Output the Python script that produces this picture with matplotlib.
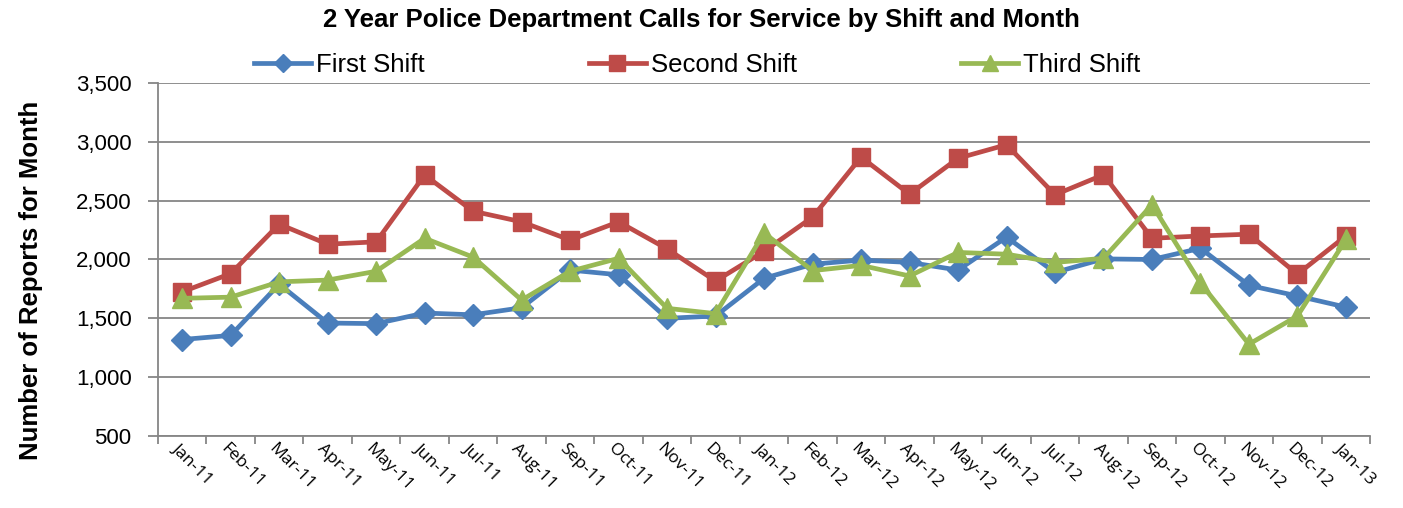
import matplotlib.pyplot as plt
from matplotlib.ticker import FuncFormatter, FixedLocator
import numpy as np

months = ['Jan-11', 'Feb-11', 'Mar-11', 'Apr-11', 'May-11', 'Jun-11', 'Jul-11', 'Aug-11',
          'Sep-11', 'Oct-11', 'Nov-11', 'Dec-11', 'Jan-12', 'Feb-12', 'Mar-12', 'Apr-12',
          'May-12', 'Jun-12', 'Jul-12', 'Aug-12', 'Sep-12', 'Oct-12', 'Nov-12', 'Dec-12', 'Jan-13']
first_shift = [1320, 1355, 1790, 1460, 1455, 1545, 1530, 1590, 1910, 1870, 1500, 1520, 1840,
               1960, 1995, 1975, 1910, 2190, 1890, 2005, 2000, 2095, 1780, 1690, 1595]
second_shift = [1725, 1880, 2300, 2130, 2150, 2718, 2410, 2320, 2165, 2320, 2090, 1817, 2070,
                2360, 2870, 2555, 2860, 2975, 2550, 2720, 2180, 2200, 2215, 1875, 2200]
third_shift = [1670, 1680, 1810, 1825, 1900, 2180, 2020, 1655, 1900, 2010, 1585, 1540, 2225,
               1905, 1950, 1860, 2060, 2045, 1975, 2010, 2465, 1800, 1280, 1520, 2170]

plt.rcParams['font.family'] = ['Liberation Sans', 'DejaVu Sans']

fig = plt.figure(figsize=(14.03, 5.08), dpi=100)
ax = fig.add_axes([0.1126, 0.1417, 0.864, 0.695])

x = np.arange(len(months))
ax.plot(x, first_shift, color='#4A7EBB', lw=3.4, marker='D', ms=11, label='First Shift')
ax.plot(x, second_shift, color='#BE4B48', lw=3.4, marker='s', ms=13, label='Second Shift')
ax.plot(x, third_shift, color='#98B954', lw=3.4, marker='^', ms=14, label='Third Shift')

ax.set_xlim(-0.5, len(months) - 0.5)
ax.set_ylim(500, 3500)
ax.set_yticks(np.arange(500, 3501, 500))
ax.yaxis.set_major_formatter(FuncFormatter(lambda v, p: '{:,.0f}'.format(v)))
ax.grid(axis='y', color='#868686', lw=1.3)
ax.set_axisbelow(True)

# category boundaries get the tick marks, labels sit under the points
ax.xaxis.set_major_locator(FixedLocator(np.arange(-0.5, len(months), 1.0)))
ax.set_xticklabels([])
ax.tick_params(axis='x', which='major', length=6, color='#868686', width=1.3)
ax.tick_params(axis='y', length=7, color='#868686', width=1.3, labelsize=16, pad=12)
for xi, m in zip(x, months):
    ax.text(xi - 0.05, 460, m, rotation=-45, ha='left', va='top', rotation_mode='anchor',
            fontsize=12.5, family=['Open Sans', 'DejaVu Sans'])

for s in ['top', 'right']:
    ax.spines[s].set_visible(False)
for s in ['left', 'bottom']:
    ax.spines[s].set_color('#868686')
    ax.spines[s].set_linewidth(1.3)

ax.set_ylabel('Number of Reports for Month', fontsize=18.5, fontweight='bold')
ax.yaxis.set_label_coords(-0.095, 0.44)

fig.suptitle('2 Year Police Department Calls for Service by Shift and Month',
             fontsize=18.5, fontweight='bold', x=0.5, y=0.985)
fig.legend(loc='center', bbox_to_anchor=(0.497, 0.872), ncol=3, frameon=False,
           fontsize=18.5, handlelength=2.2, handletextpad=0.2, columnspacing=6.4,
           markerscale=0.85)

plt.savefig('out.png', dpi=100)
